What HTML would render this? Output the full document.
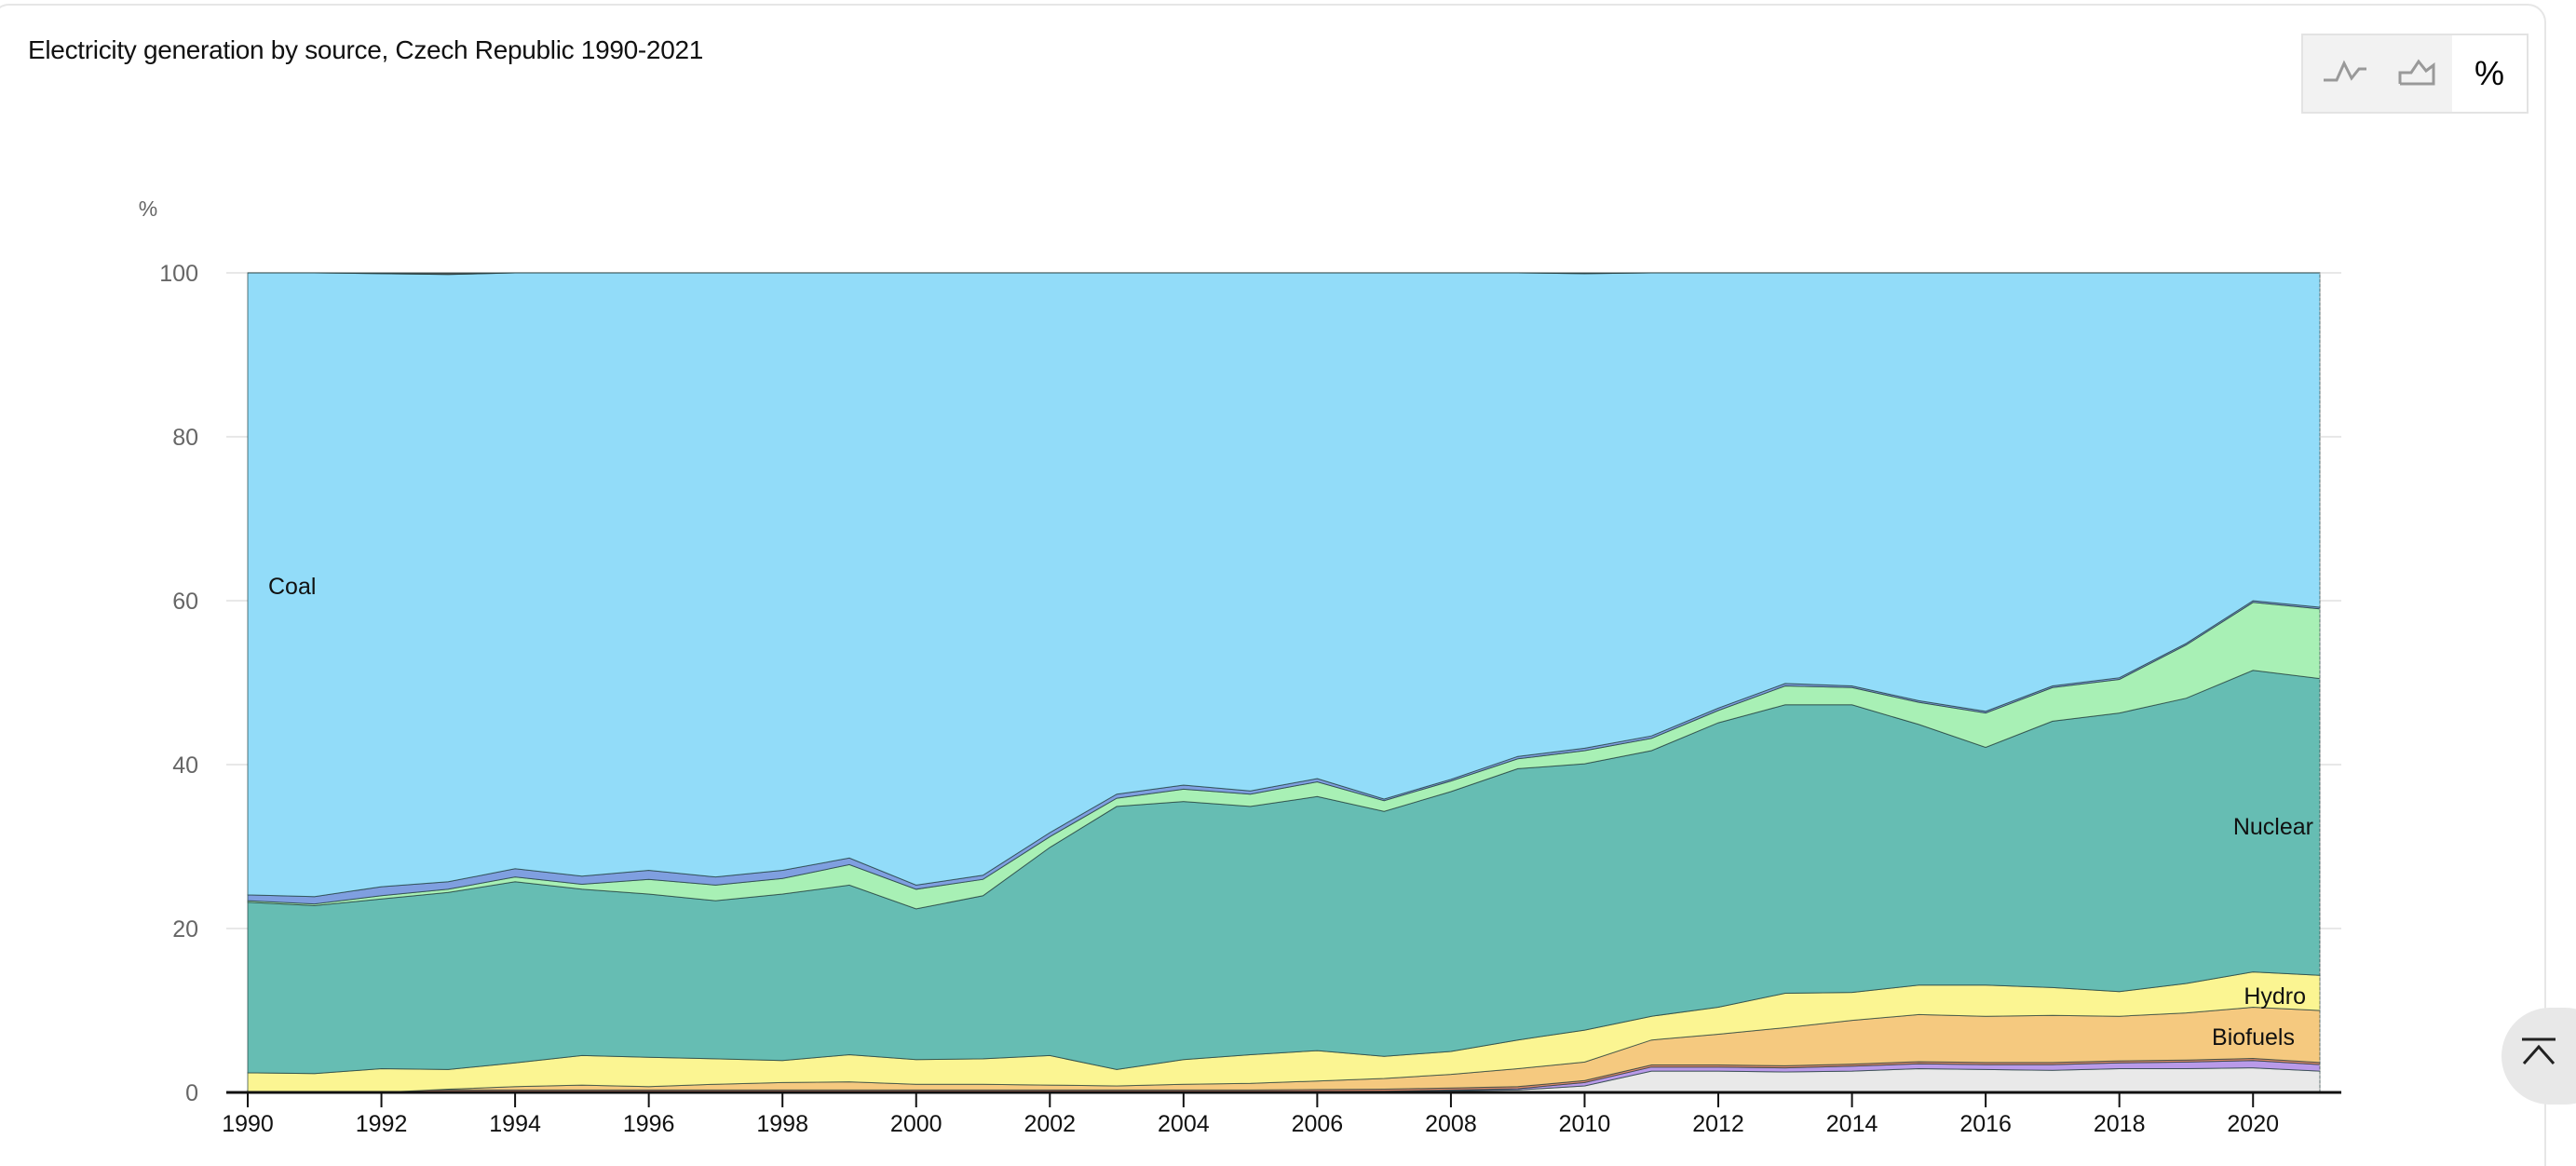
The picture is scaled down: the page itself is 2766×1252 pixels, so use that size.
<!DOCTYPE html>
<html><head><meta charset="utf-8">
<style>
html,body{margin:0;padding:0;background:#fff;width:2766px;height:1252px;overflow:hidden;font-family:"Liberation Sans",sans-serif;}
#wrap{position:relative;width:2766px;height:1252px;overflow:hidden;}
.card{position:absolute;left:-10px;top:4px;width:2740px;height:1300px;border:2px solid #e6e6e6;border-radius:20px;}
.title{position:absolute;left:30px;top:38px;font-size:28px;color:#111;letter-spacing:-0.3px;}
.btns{position:absolute;left:2471px;top:36px;width:240px;height:82px;border:2px solid #e3e3e3;background:#f2f2f2;}
.btns .on{position:absolute;left:160px;top:0;width:80px;height:82px;background:#fff;font-size:36px;text-align:center;line-height:82px;color:#000;}
.fab{position:absolute;left:2686px;top:1082px;width:120px;height:104px;border-radius:52px;background:#e8e8e8;}
svg{position:absolute;left:0;top:0;}
</style></head><body>
<div id="wrap">
<div class="card"></div>
<div class="title">Electricity generation by source, Czech Republic 1990-2021</div>
<div class="btns">
<svg width="160" height="82" style="position:absolute;left:0;top:0">
<polyline points="22,48 36,48 44,30 52,46 60,36 68,36" fill="none" stroke="#999" stroke-width="3"/>
<polyline points="104,52 104,40 116,40 124,28 132,38 140,32 140,52 104,52" fill="none" stroke="#999" stroke-width="3"/>
</svg>
<div class="on">%</div>
</div>
<div class="fab"><svg width="60" height="104" style="left:18px"><line x1="4" y1="34" x2="40" y2="34" stroke="#222" stroke-width="3"/><polyline points="6,60 22,42 38,60" fill="none" stroke="#222" stroke-width="3"/></svg></div>
<svg id="c" width="2766" height="1252"></svg>
</div>
<script>
var x0=266,x1=2491,yb=1173,yt=293;
function X(i){return x0+i*(x1-x0)/31;}
function Y(v){return yb-(yb-yt)*v/100;}
var z=function(n,v){var a=[];for(var i=0;i<n;i++)a.push(v);return a;};
var grey=[0,0,0,0,0,0,0,0,0,0,0,0,0,0,0,0,0,0,0.2,0.3,0.8,2.6,2.6,2.5,2.6,2.9,2.8,2.7,2.9,2.9,3.0,2.6];
var purp=[0.05,0.05,0.05,0.05,0.05,0.05,0.05,0.05,0.05,0.05,0.05,0.05,0.05,0.05,0.05,0.05,0.1,0.15,0.3,0.45,1.2,3.1,3.1,3.0,3.2,3.5,3.4,3.4,3.6,3.7,3.9,3.4];
var red=purp.map(function(v){return v+0.25;});
var bio=[0,0,0,0.4,0.7,0.9,0.7,1.0,1.2,1.3,1.0,1.0,0.9,0.8,1.0,1.1,1.4,1.7,2.2,2.9,3.7,6.4,7.1,7.9,8.8,9.5,9.3,9.4,9.3,9.7,10.4,10.0];
var hyd=[2.4,2.3,2.9,2.8,3.6,4.5,4.3,4.1,3.9,4.6,4.0,4.1,4.5,2.8,4.0,4.6,5.1,4.4,5.0,6.4,7.6,9.3,10.4,12.1,12.2,13.1,13.1,12.8,12.3,13.3,14.7,14.3];
var nuc=[23.2,22.8,23.6,24.4,25.7,24.8,24.2,23.4,24.2,25.3,22.4,24.0,29.9,34.9,35.5,34.9,36.1,34.3,36.7,39.5,40.1,41.7,45.1,47.3,47.3,44.9,42.1,45.3,46.3,48.1,51.5,50.5];
var wnd=[23.4,23.0,24.0,24.8,26.3,25.4,26.0,25.3,26.1,27.8,24.8,26.0,31.2,35.9,37.0,36.4,37.9,35.6,38.0,40.7,41.7,43.2,46.6,49.6,49.4,47.6,46.3,49.4,50.4,54.6,59.8,59.0];
var gas=[24.1,23.9,25.1,25.7,27.3,26.4,27.1,26.3,27.1,28.6,25.3,26.5,31.7,36.4,37.5,36.8,38.3,35.8,38.2,41.0,42.0,43.5,46.9,49.9,49.6,47.8,46.5,49.6,50.6,54.8,60.0,59.2];
var coal=[100,100,99.9,99.8,100,100,100,100,100,100,100,100,100,100,100,100,100,100,100,100,99.9,100,100,100,100,100,100,100,100,100,100,100];
var zero=z(32,0);
var layers=[[zero,grey,"#e9e9e9"],[grey,purp,"#b99ae9"],[purp,red,"#e08a6e"],[red,bio,"#f5c97f"],[bio,hyd,"#fbf592"],[hyd,nuc,"#66bdb3"],[nuc,wnd,"#a8f0b5"],[wnd,gas,"#7f9fe0"],[gas,coal,"#92dcf9"],[coal,z(32,100),"#555"]];
var s='';
[0,20,40,60,80,100].forEach(function(v){
 s+='<line x1="243" x2="2514" y1="'+Y(v)+'" y2="'+Y(v)+'" stroke="#e8e8e8" stroke-width="2"/>';
 s+='<text x="213" y="'+(Y(v)+9)+'" text-anchor="end" font-size="25" fill="#666">'+v+'</text>';
});
layers.forEach(function(L){
 var lo=L[0],hi=L[1],p='';
 for(var i=0;i<32;i++)p+=(i?'L':'M')+X(i).toFixed(1)+','+Y(Math.max(hi[i],lo[i])).toFixed(1);
 for(var i=31;i>=0;i--)p+='L'+X(i).toFixed(1)+','+Y(lo[i]).toFixed(1);
 s+='<path d="'+p+'Z" fill="'+L[2]+'" stroke="#1f3a3a" stroke-width="1" stroke-opacity="0.7"/>';
});
s+='<line x1="'+x1+'" x2="'+x1+'" y1="'+yt+'" y2="'+yb+'" stroke="#999" stroke-dasharray="2,3" stroke-width="1"/>';
s+='<line x1="243" x2="2514" y1="'+yb+'" y2="'+yb+'" stroke="#111" stroke-width="3"/>';
for(var yr=1990;yr<=2020;yr+=2){var xx=X(yr-1990);
 s+='<line x1="'+xx+'" x2="'+xx+'" y1="'+yb+'" y2="'+(yb+16)+'" stroke="#111" stroke-width="2"/>';
 s+='<text x="'+xx+'" y="'+(yb+42)+'" text-anchor="middle" font-size="25" fill="#111">'+yr+'</text>';}
s+='<text x="159" y="232" text-anchor="middle" font-size="23" fill="#666">%</text>';
s+='<text x="288" y="638" font-size="25" fill="#111">Coal</text>';
s+='<text x="2484" y="896" text-anchor="end" font-size="25" fill="#111">Nuclear</text>';
s+='<text x="2476" y="1078" text-anchor="end" font-size="25" fill="#111">Hydro</text>';
s+='<text x="2464" y="1122" text-anchor="end" font-size="25" fill="#111">Biofuels</text>';
document.getElementById('c').innerHTML=s;
</script>
</body></html>
